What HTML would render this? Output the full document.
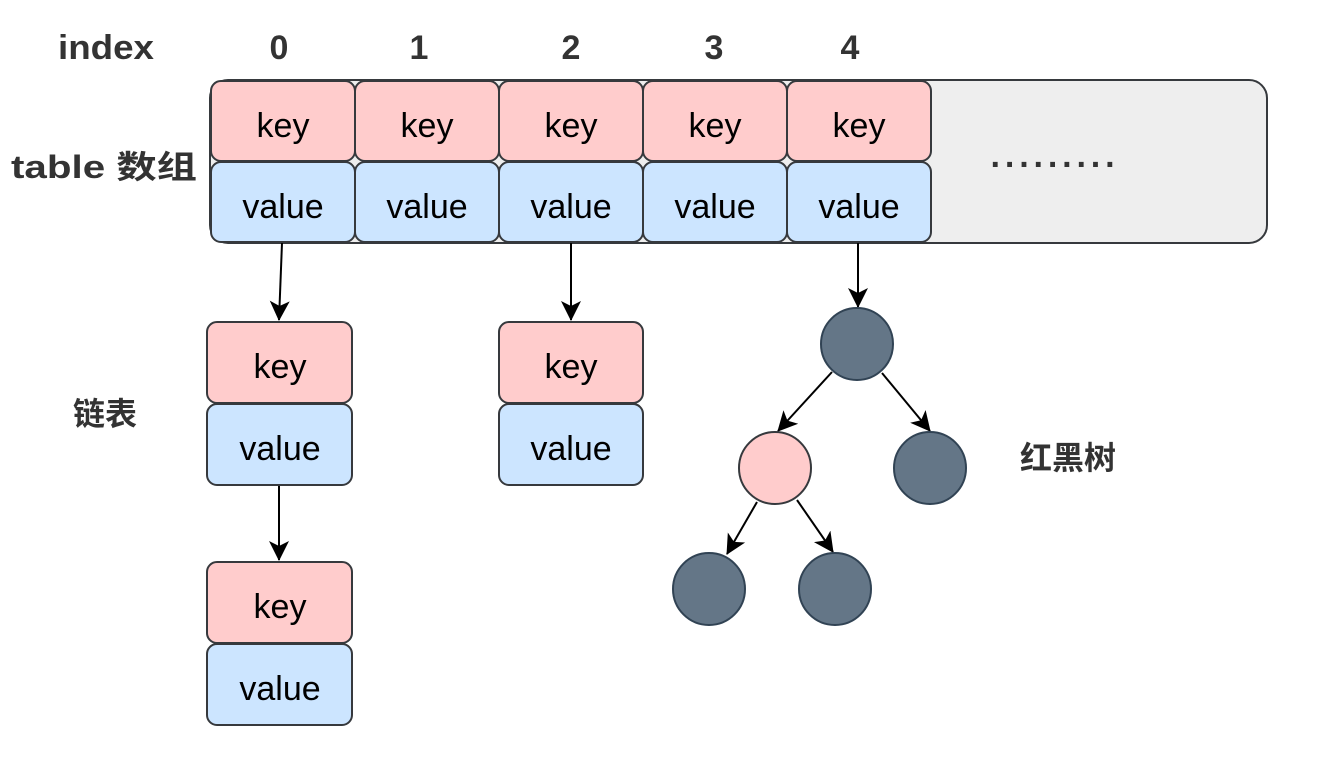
<!DOCTYPE html>
<html><head><meta charset="utf-8"><style>
html,body{margin:0;padding:0;background:#fff;}
svg text{font-family:"Liberation Sans","Noto Sans CJK SC",sans-serif;}
</style></head><body>
<svg width="1340" height="754" viewBox="0 0 1340 754" xmlns="http://www.w3.org/2000/svg">
<defs>
<marker id="a" markerWidth="22" markerHeight="22" refX="19" refY="11" orient="auto" markerUnits="userSpaceOnUse">
<path d="M0,1 L20,11 L0,21 L5,11 Z" fill="#000"/>
</marker>
</defs>
<g font-weight="bold" fill="#333" font-size="34" text-anchor="middle">
<text x="106" y="59" textLength="96" lengthAdjust="spacingAndGlyphs">index</text>
<text x="279" y="59">0</text>
<text x="419" y="59">1</text>
<text x="571" y="59">2</text>
<text x="714" y="59">3</text>
<text x="850" y="59">4</text>
<text x="104" y="178" font-size="32" textLength="186" lengthAdjust="spacingAndGlyphs">table 数组</text>
<text x="105" y="425" font-size="32">链表</text>
<text x="1068" y="469" font-size="32">红黑树</text>
</g>
<rect x="210" y="80" width="1057" height="163" rx="18" fill="#eeeeee" stroke="#36393d" stroke-width="2"/>
<text x="1055" y="176" font-size="34" font-weight="bold" text-anchor="middle" fill="#333" letter-spacing="3">·········</text>
<g stroke="#36393d" stroke-width="2" font-size="34" text-anchor="middle">
<g>
<rect x="211" y="81" width="144" height="80" rx="10" fill="#ffcccc"/><rect x="211" y="162" width="144" height="80" rx="10" fill="#cce5ff"/>
<rect x="355" y="81" width="144" height="80" rx="10" fill="#ffcccc"/><rect x="355" y="162" width="144" height="80" rx="10" fill="#cce5ff"/>
<rect x="499" y="81" width="144" height="80" rx="10" fill="#ffcccc"/><rect x="499" y="162" width="144" height="80" rx="10" fill="#cce5ff"/>
<rect x="643" y="81" width="144" height="80" rx="10" fill="#ffcccc"/><rect x="643" y="162" width="144" height="80" rx="10" fill="#cce5ff"/>
<rect x="787" y="81" width="144" height="80" rx="10" fill="#ffcccc"/><rect x="787" y="162" width="144" height="80" rx="10" fill="#cce5ff"/>
<rect x="207" y="322" width="145" height="81" rx="10" fill="#ffcccc"/><rect x="207" y="404" width="145" height="81" rx="10" fill="#cce5ff"/>
<rect x="207" y="562" width="145" height="81" rx="10" fill="#ffcccc"/><rect x="207" y="644" width="145" height="81" rx="10" fill="#cce5ff"/>
<rect x="499" y="322" width="144" height="81" rx="10" fill="#ffcccc"/><rect x="499" y="404" width="144" height="81" rx="10" fill="#cce5ff"/>
</g>
<g stroke="none" fill="#000">
<text x="283" y="137">key</text><text x="283" y="218">value</text>
<text x="427" y="137">key</text><text x="427" y="218">value</text>
<text x="571" y="137">key</text><text x="571" y="218">value</text>
<text x="715" y="137">key</text><text x="715" y="218">value</text>
<text x="859" y="137">key</text><text x="859" y="218">value</text>
<text x="280" y="378">key</text><text x="280" y="460">value</text>
<text x="280" y="618">key</text><text x="280" y="700">value</text>
<text x="571" y="378">key</text><text x="571" y="460">value</text>
</g>
</g>
<g stroke="#000" stroke-width="2" fill="none" marker-end="url(#a)">
<line x1="282" y1="243" x2="279" y2="320"/>
<line x1="279" y1="486" x2="279" y2="560"/>
<line x1="571" y1="243" x2="571" y2="320"/>
<line x1="858" y1="243" x2="858" y2="307"/>
<line x1="832" y1="372" x2="778" y2="431"/>
<line x1="882" y1="373" x2="930" y2="431"/>
<line x1="757" y1="502" x2="727" y2="554"/>
<line x1="797" y1="500" x2="833" y2="552"/>
</g>
<g stroke="#314354" stroke-width="2">
<circle cx="857" cy="344" r="36" fill="#647687"/>
<circle cx="775" cy="468" r="36" fill="#ffcccc" stroke="#36393d"/>
<circle cx="930" cy="468" r="36" fill="#647687"/>
<circle cx="709" cy="589" r="36" fill="#647687"/>
<circle cx="835" cy="589" r="36" fill="#647687"/>
</g>
</svg>
</body></html>
